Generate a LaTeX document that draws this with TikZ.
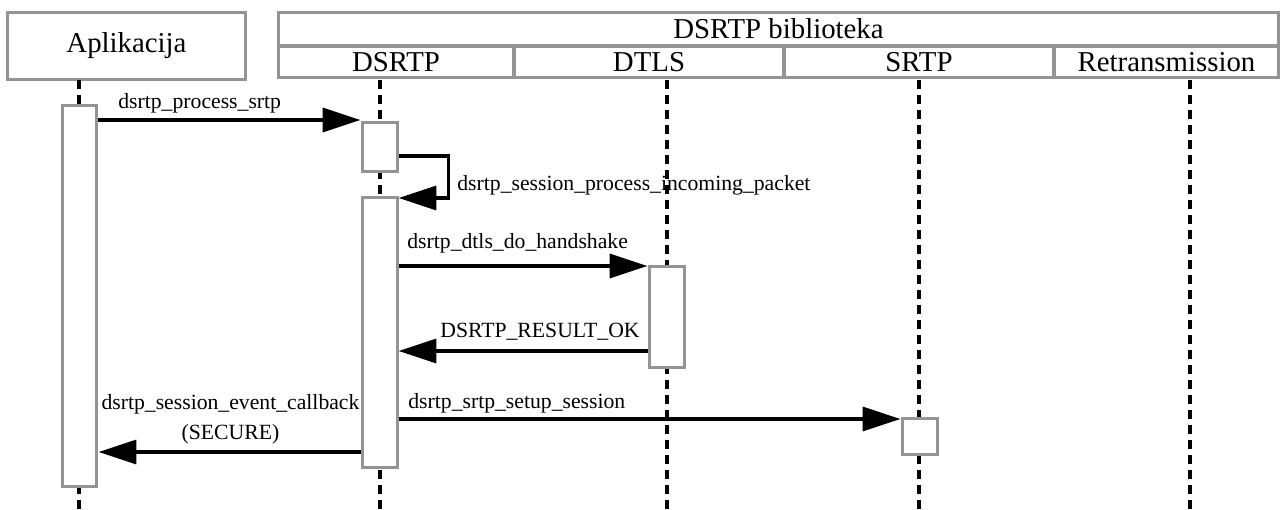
\documentclass[tikz,border=0pt]{standalone}
\usepackage{fontspec}
\setmainfont{Liberation Serif}
\usetikzlibrary{arrows.meta}
\tikzset{
  head/.style={draw=black!42,line width=0.06cm,fill=white,inner sep=0pt,font=\fontsize{16.4}{19}\selectfont},
  act/.style={draw=black!42,line width=0.06cm,fill=white,inner sep=0pt,minimum width=0.7cm},
  life/.style={line width=0.07cm,dash pattern=on 0.18cm off 0.12cm},
  msg/.style={line width=0.07cm,-{Triangle[length=0.76cm,width=0.48cm]}},
  lbl/.style={inner sep=0pt,font=\fontsize{12.35}{17}\selectfont}
}
\begin{document}
\begin{tikzpicture}[x=0.02cm,y=-0.02cm]
\useasboundingbox (0,0) rectangle (1281,510);
\node[head,minimum width=4.78cm,minimum height=1.36cm] (apl) at (126.5,46){Aplikacija};
\node[head,minimum width=20.02cm,minimum height=0.68cm] (lib) at (778.5,29){DSRTP biblioteka};
\node[head,minimum width=4.72cm,minimum height=0.64cm] (dsrtp) at (396,62){DSRTP};
\node[head,minimum width=5.4cm,minimum height=0.64cm] (dtls) at (649,62){DTLS};
\node[head,minimum width=5.4cm,minimum height=0.64cm] (srtp) at (919,62){SRTP};
\node[head,minimum width=4.5cm,minimum height=0.64cm] (retr) at (1166.5,62){Retransmission};
\coordinate (lapl) at (79,80);\coordinate (ldsrtp) at (380,80);\coordinate (ldtls) at (667,80);
\coordinate (lsrtp) at (919,80);\coordinate (lretr) at (1190,80);
\foreach \l in {lapl,ldsrtp,ldtls,lsrtp,lretr}{\draw[life] (\l) -- ++(0,430);}
\node[act,minimum height=7.64cm] (aplact) at (79.5,296){};
\node[act,minimum height=1cm] (dact1) at (379.5,147){};
\node[act,minimum height=5.42cm] (dact2) at (379.5,332.5){};
\node[act,minimum height=2.04cm] (tact) at (666.5,317){};
\node[act,minimum height=0.72cm] (sact) at (919.5,436){};
\coordinate (y1) at (0,120);\coordinate (y2) at (0,156);\coordinate (y3) at (0,198);
\coordinate (y4) at (0,266);\coordinate (y5) at (0,351);\coordinate (y6) at (0,419);\coordinate (y7) at (0,452);
\draw[msg] (aplact.east |- y1) -- (dact1.west |- y1);
\draw[msg] (dact1.east |- y2) -- ++(50,0) |- (dact2.east |- y3);
\draw[msg] (dact2.east |- y4) -- (tact.west |- y4);
\draw[msg] (tact.west |- y5) -- (dact2.east |- y5);
\draw[msg] (dact2.east |- y6) -- (sact.west |- y6);
\draw[msg] (dact2.west |- y7) -- (aplact.east |- y7);
\node[lbl,anchor=west] (t1) at (118,103){dsrtp\_process\_srtp};
\node[lbl,anchor=west] (t2) at (457,185){dsrtp\_session\_process\_incoming\_packet};
\node[lbl,anchor=west] (t3) at (407,243){dsrtp\_dtls\_do\_handshake};
\node[lbl,anchor=east] (t4) at (640,332){DSRTP\_RESULT\_OK};
\node[lbl,anchor=west] (t5) at (408,403){dsrtp\_srtp\_setup\_session};
\node[lbl,align=center] (t6) at (230.5,419){dsrtp\_session\_event\_callback\\(SECURE)};
\end{tikzpicture}
\end{document}
